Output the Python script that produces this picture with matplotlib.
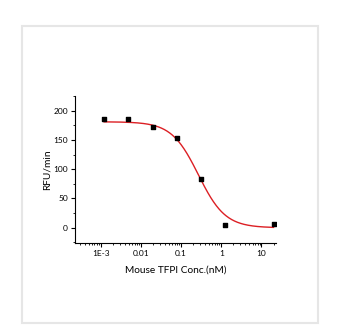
import numpy as np
import matplotlib
matplotlib.use("Agg")
import matplotlib.pyplot as plt
from matplotlib.ticker import LogLocator, FixedLocator, FixedFormatter, MultipleLocator
from matplotlib.patches import Rectangle

plt.rcParams['font.family'] = ['Lato', 'DejaVu Sans']

# measured points (nM, RFU/min)
conc = [0.00122, 0.0049, 0.0195, 0.078, 0.3125, 1.25, 20]
rfu = [186, 185, 172, 153, 83, 4, 7]

# 4-parameter logistic fit
top, bottom, ic50, hill = 181, 0, 0.27, 1.3

xfit = np.logspace(np.log10(conc[0]), np.log10(conc[-1]), 300)
yfit = bottom + (top - bottom) / (1 + (xfit / ic50) ** hill)

xticks = [1e-3, 1e-2, 1e-1, 1, 10]
xticklabels = ['1E-3', '0.01', '0.1', '1', '10']

fig = plt.figure(figsize=(3.46, 3.34), dpi=100)
fig.patches.append(Rectangle((22 / 346, 1 - 323 / 334), 296 / 346, 297 / 334,
                             transform=fig.transFigure, fill=False,
                             edgecolor='#e6e6e6', linewidth=1.5))

ax = fig.add_axes([75 / 346, 91 / 334, 201 / 346, 147 / 334])
ax.plot(xfit, yfit, color='#dc1f24', linewidth=1.0)
ax.scatter(conc, rfu, marker='s', s=9, color='black', zorder=3)

ax.set_xscale('log')
ax.set_xlim(2.3e-4, 23)
ax.set_ylim(-26, 225)

ax.xaxis.set_major_locator(FixedLocator(xticks))
ax.xaxis.set_major_formatter(FixedFormatter(xticklabels))
ax.xaxis.set_minor_locator(LogLocator(base=10, subs=np.arange(2, 10)))
ax.yaxis.set_major_locator(MultipleLocator(50))
ax.yaxis.set_minor_locator(MultipleLocator(25))

for s in ['top', 'right']:
    ax.spines[s].set_visible(False)
for s in ['left', 'bottom']:
    ax.spines[s].set_linewidth(0.8)

ax.tick_params(which='major', direction='out', length=3, width=0.8, labelsize=6, pad=2)
ax.tick_params(which='minor', direction='out', length=1.5, width=0.6)

ax.set_xlabel('Mouse TFPI Conc.(nM)', fontsize=7.3, labelpad=6)
ax.set_ylabel('RFU/min', fontsize=7.3, labelpad=1.5)

fig.savefig('out.png', dpi=100)
